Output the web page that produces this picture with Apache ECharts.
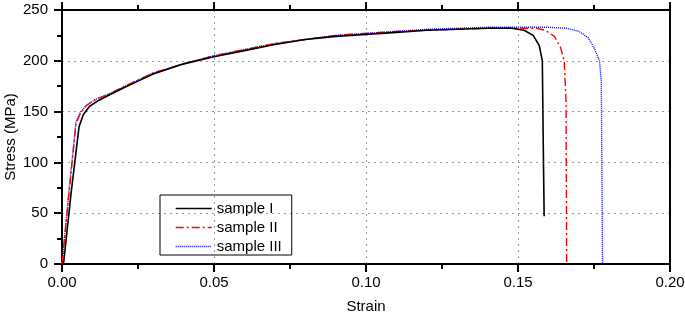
<!DOCTYPE html>
<html lang="en">
<head>
  <meta charset="utf-8">
  <title>Stress-strain</title>
  <style>
    * { margin: 0; padding: 0; }
    #chart-container { position: relative; width: 685px; height: 317px; overflow: hidden; background: #fff; }
  </style>
</head>
<body>
  <div id="chart-container"></div>
  <script src="https://cdn.jsdelivr.net/npm/echarts@6/dist/echarts.min.js"></script>
  <script>
    // strain / stress points
    var strain1 = [0.0005, 0.003, 0.0056, 0.007, 0.009, 0.012, 0.016, 0.02, 0.025, 0.03, 0.04, 0.05, 0.06, 0.07, 0.08, 0.09, 0.10, 0.11, 0.12, 0.13, 0.14, 0.148, 0.152, 0.155, 0.157, 0.158, 0.1583, 0.1586];
    var stress1 = [0, 70, 135, 147, 155, 161, 167, 173, 180, 187, 197, 204, 210, 216, 221, 224, 226, 228, 230, 231, 232, 232, 230, 225, 215, 200, 120, 47];

    var strain2 = [0, 0.0023, 0.0046, 0.006, 0.008, 0.011, 0.016, 0.02, 0.025, 0.03, 0.04, 0.05, 0.06, 0.07, 0.08, 0.09, 0.10, 0.11, 0.12, 0.13, 0.14, 0.15, 0.156, 0.159, 0.162, 0.164, 0.1652, 0.1658, 0.166];
    var stress2 = [0, 70, 138, 148, 156, 162, 168, 174, 181, 188, 197, 205, 211, 217, 221, 225, 227, 229, 230, 231, 232, 232, 232, 230, 224, 213, 200, 160, 0];

    var strain3 = [0, 0.0023, 0.0046, 0.006, 0.008, 0.011, 0.016, 0.02, 0.025, 0.03, 0.04, 0.05, 0.06, 0.07, 0.08, 0.09, 0.10, 0.11, 0.12, 0.13, 0.14, 0.15, 0.16, 0.166, 0.17, 0.173, 0.175, 0.1768, 0.1774, 0.1778];
    var stress3 = [0, 72, 140, 149, 156, 162, 168, 174, 181, 188, 197, 205, 211, 217, 221, 225, 227, 229, 231, 232, 233, 233, 233, 232, 229, 223, 213, 200, 180, 0];

    var names = ['sample I', 'sample II', 'sample III'];
    var colors = ['#000000', '#ff0000', '#0000ff'];
    var dashes = ['solid', [8, 3, 2, 3], [1, 1]];

    function pairs(xs, ys) {
      return xs.map(function (x, i) { return [x, ys[i]]; });
    }
    var sets = [pairs(strain1, stress1), pairs(strain2, stress2), pairs(strain3, stress3)];

    var myChart = echarts.init(document.getElementById('chart-container'), null, { renderer: 'canvas' });

    var font = 'Liberation Sans, Arial, sans-serif';
    var frame = { show: true, onZero: false, lineStyle: { color: '#000', width: 2 } };
    var tick = { show: true, length: 8, lineStyle: { color: '#000', width: 2 } };
    var minor = { show: true, splitNumber: 2, length: 5, lineStyle: { color: '#000', width: 2 } };
    var grid = { show: true, lineStyle: { color: '#999', type: [2, 4], width: 1 } };

    var option = {
      backgroundColor: '#fff',
      animation: false,
      textStyle: { fontFamily: font },
      grid: { left: 62, right: 15, top: 10, bottom: 53, outerBoundsMode: 'none', containLabel: false },
      legend: {
        orient: 'vertical',
        left: 160,
        top: 195,
        padding: [6, 10, 1, 15],
        itemGap: 4,
        itemWidth: 36,
        itemHeight: 14,
        borderColor: '#000',
        borderWidth: 1,
        itemStyle: { opacity: 0 },
        textStyle: { fontFamily: font, fontSize: 15, color: '#000' },
        data: names.map(function (n, i) {
          return { name: n, lineStyle: { color: colors[i], type: dashes[i], width: 1.4 } };
        })
      },
      xAxis: [{
        type: 'value', min: 0, max: 0.2, interval: 0.05,
        name: 'Strain', nameLocation: 'middle', nameGap: 35,
        nameTextStyle: { fontSize: 15, color: '#000' },
        axisLine: frame,
        axisTick: tick,
        minorTick: minor,
        axisLabel: { fontSize: 15, color: '#000', margin: 11, formatter: function (v) { return v.toFixed(2); } },
        splitLine: grid
      }, {
        type: 'value', min: 0, max: 0.2, interval: 0.05, position: 'top',
        axisLine: frame,
        axisTick: tick,
        minorTick: minor,
        axisLabel: { show: false },
        splitLine: { show: false }
      }],
      yAxis: [{
        type: 'value', min: 0, max: 250, interval: 50,
        name: 'Stress (MPa)', nameLocation: 'middle', nameGap: 44, nameMoveOverlap: false,
        nameTextStyle: { fontSize: 15, color: '#000' },
        axisLine: frame,
        axisTick: tick,
        minorTick: minor,
        axisLabel: { fontSize: 15, color: '#000', margin: 14 },
        splitLine: grid
      }, {
        type: 'value', min: 0, max: 250, interval: 50, position: 'right',
        axisLine: frame,
        axisTick: { show: false },
        axisLabel: { show: false },
        splitLine: { show: false }
      }],
      series: sets.map(function (d, i) {
        return {
          name: names[i],
          type: 'line',
          data: d,
          showSymbol: false,
          symbol: 'none',
          color: colors[i],
          lineStyle: { color: colors[i], width: i === 0 ? 1.6 : 1.4, type: dashes[i] },
          z: 3 - i
        };
      })
    };

    myChart.setOption(option);
    window.addEventListener('resize', myChart.resize);
  </script>
</body>
</html>
